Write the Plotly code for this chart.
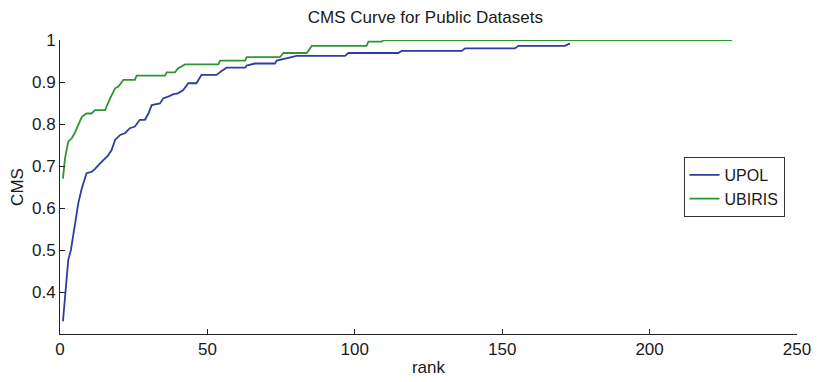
import plotly.graph_objects as go

# UPOL curve (rank, CMS)
upol_rank = [1, 1.7, 2.8, 3.7, 5.1, 6.2, 7.4, 9.0, 10.7, 11.9, 13.6, 16.4, 17.5, 18.7, 20.4, 22, 23.7, 25.4,
             27.1, 28.8, 30, 31.1, 33.9, 35, 37.3, 38.5, 40, 41.8, 43.5, 46.3, 48, 53.1, 54.8, 56.5, 62.8,
             63.3, 66.1, 72.9, 73.5, 76.9, 80.3, 96.7, 97.8, 114.8, 115.9, 136.3, 137.4, 154.3, 155.5,
             171.3, 173]
upol_cms = [0.33, 0.393, 0.476, 0.50, 0.564, 0.611, 0.647, 0.683, 0.686, 0.693, 0.706, 0.726, 0.738, 0.762,
            0.774, 0.778, 0.79, 0.794, 0.81, 0.81, 0.825, 0.845, 0.849, 0.861, 0.867, 0.871, 0.873, 0.881,
            0.897, 0.897, 0.917, 0.917, 0.926, 0.934, 0.934, 0.939, 0.944, 0.944, 0.951, 0.956, 0.962,
            0.962, 0.969, 0.969, 0.974, 0.974, 0.980, 0.980, 0.986, 0.986, 0.992]

# UBIRIS curve (rank, CMS)
ubiris_rank = [1, 1.7, 2.8, 4, 5.1, 6.2, 7.4, 9, 10.7, 11.9, 15.3, 17, 18.7, 19.8, 21.5, 25.4, 26, 35.6,
               36.2, 39, 40, 42.4, 53.7, 54.3, 62.8, 63.3, 74.6, 75.8, 83.7, 85.4, 104, 104.6, 109, 110, 228]
ubiris_cms = [0.67, 0.718, 0.758, 0.766, 0.78, 0.80, 0.817, 0.825, 0.825, 0.833, 0.833, 0.861, 0.885, 0.889,
              0.905, 0.905, 0.915, 0.915, 0.923, 0.923, 0.932, 0.942, 0.942, 0.951, 0.951, 0.959, 0.959,
              0.969, 0.969, 0.986, 0.986, 0.996, 0.996, 1.0, 1.0]

x_ticks = [0, 50, 100, 150, 200, 250]
y_ticks = [0.4, 0.5, 0.6, 0.7, 0.8, 0.9, 1.0]
y_tick_labels = ["0.4", "0.5", "0.6", "0.7", "0.8", "0.9", "1"]

fig = go.Figure()
fig.add_trace(go.Scatter(x=upol_rank, y=upol_cms, mode="lines", name="UPOL",
                         line=dict(color="#2e3d9e", width=1.8)))
fig.add_trace(go.Scatter(x=ubiris_rank, y=ubiris_cms, mode="lines", name="UBIRIS",
                         line=dict(color="#2f962f", width=1.8)))

font_family = "Liberation Sans, Arial, sans-serif"
fs = 17
fig.update_layout(
    width=818, height=382,
    margin=dict(l=60, r=21, t=40, b=48, autoexpand=False),
    paper_bgcolor="white", plot_bgcolor="white",
    font=dict(family=font_family, size=fs, color="#1a1a1a"),
    title=dict(text="CMS Curve for Public Datasets", x=0.52, xanchor="center",
               y=1 - 17 / 382, yanchor="middle", font=dict(size=fs)),
    showlegend=True,
    legend=dict(x=0.846, y=0.602, xanchor="left", yanchor="top",
                bordercolor="#333", borderwidth=1, bgcolor="white",
                font=dict(size=16), tracegroupgap=0, itemwidth=30, entrywidth=60),
    xaxis=dict(range=[0, 250], tickvals=x_ticks, ticks="inside", ticklen=5,
               tickcolor="#222", showline=True, linecolor="#222", linewidth=1,
               showgrid=False, zeroline=False, mirror=False, automargin=False,
               title=dict(text="rank", standoff=2, font=dict(size=fs))),
    yaxis=dict(range=[0.3, 1.0], tickvals=y_ticks, ticktext=y_tick_labels, ticks="inside",
               ticklen=5, tickcolor="#222", showline=True, linecolor="#222", linewidth=1,
               showgrid=False, zeroline=False, mirror=False, automargin=False,
               title=dict(text="CMS", standoff=4, font=dict(size=fs))),
)

fig.write_html("out.html")
